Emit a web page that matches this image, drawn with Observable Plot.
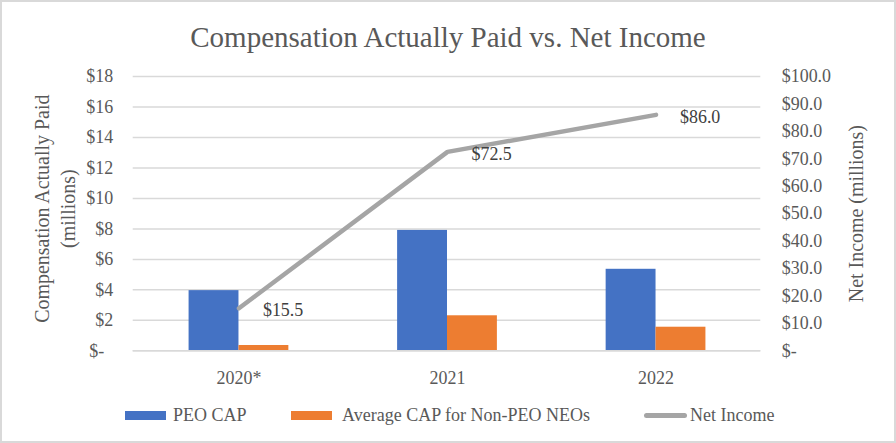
<!DOCTYPE html>
<html>
<head>
<meta charset="utf-8">
<script src="https://cdn.jsdelivr.net/npm/d3@7"></script>
<script src="https://cdn.jsdelivr.net/npm/@observablehq/plot@0.6"></script>
<style>
  html, body { margin: 0; padding: 0; background: #fff; }
  #chart { position: relative; width: 896px; height: 443px; box-sizing: border-box; border: 2px solid #d9d9d9; font-family: "Liberation Serif", "Times New Roman", serif; color: #595959; overflow: hidden; }
  #title { position: absolute; left: 0; top: 17px; width: 892px; text-align: center; font-size: 29px; line-height: 36px; color: #595959; }
  #plot { position: absolute; left: -2px; top: 56px; }
  #legend { position: absolute; top: 401px; left: 0; width: 892px; font-size: 18px; line-height: 24px; }
  .item { position: absolute; top: 0; white-space: nowrap; display: flex; align-items: center; height: 24px; }
  .sw { display: inline-block; width: 41px; height: 9px; }
  .ln { display: inline-block; width: 43px; height: 5px; border-radius: 2.5px; }
</style>
</head>
<body>
<div id="chart">
  <div id="title">Compensation Actually Paid vs. Net Income</div>
  <div id="plot"></div>
  <div id="legend"></div>
</div>
<script>
const years = ["2020*", "2021", "2022"];
const peoCap = [3.95, 7.9, 5.35];
const avgNeoCap = [0.35, 2.3, 1.55];
const netIncome = [15.5, 72.5, 86.0];
const leftTicks = [0, 2, 4, 6, 8, 10, 12, 14, 16, 18];
const rightTicks = [0, 10, 20, 30, 40, 50, 60, 70, 80, 90, 100];
const seriesNames = ["PEO CAP", "Average CAP for Non-PEO NEOs", "Net Income"];
const colors = ["#4472C4", "#ED7D31", "#A5A5A5"];

const leftMax = 18, rightMax = 100;
const toLeft = v => v * leftMax / rightMax;

const peoData = years.map((y, i) => ({year: y, value: peoCap[i]}));
const neoData = years.map((y, i) => ({year: y, value: avgNeoCap[i]}));
const niData = years.map((y, i) => ({year: y, value: netIncome[i]}));

const fmtLeft = d => d === 0 ? "$-\u2007" : "$" + d3.format(",")(d);
const fmtRight = d => d === 0 ? "$-" : "$" + d3.format(".1f")(d);

const W = 896, H = 341;
const plot = Plot.plot({
  width: W,
  height: H,
  marginTop: 18,
  marginBottom: 48,
  marginLeft: 133,
  marginRight: 134,
  style: {fontFamily: "Liberation Serif, Times New Roman, serif", fontSize: "18px", color: "#595959", background: "transparent", overflow: "visible"},
  x: {domain: years, paddingInner: 0.523, paddingOuter: 0.2615, label: null},
  y: {domain: [0, leftMax], label: null},
  marks: [
    Plot.gridY(leftTicks, {stroke: "#d9d9d9", strokeOpacity: 1, strokeWidth: 1.5}),
    Plot.barY(peoData, {x: "year", y: "value", fill: colors[0], insetRight: 50}),
    Plot.barY(neoData, {x: "year", y: "value", fill: colors[1], insetLeft: 50}),
    Plot.ruleY([0], {stroke: "#d9d9d9", strokeWidth: 1.5}),
    Plot.line(niData, {x: "year", y: d => toLeft(d.value), stroke: colors[2], strokeWidth: 4.5, strokeLinecap: "round", strokeLinejoin: "round"}),
    Plot.text(niData, {x: "year", y: d => toLeft(d.value), text: d => "$" + d3.format(".1f")(d.value), textAnchor: "start", dx: 24, dy: 2, fill: "#404040", fontSize: 18}),
    Plot.axisX({tickSize: 0, tickPadding: 20, fontSize: 18, fill: "#595959"}),
    Plot.axisY(leftTicks, {anchor: "left", tickSize: 0, tickPadding: 20, tickFormat: fmtLeft, fontSize: 18, fill: "#595959"}),
    Plot.axisY(rightTicks.map(toLeft), {anchor: "right", tickSize: 0, tickPadding: 21, tickFormat: d => fmtRight(Math.round(d * rightMax / leftMax)), fontSize: 18, fill: "#595959"}),
    Plot.text(["Compensation Actually Paid\n(millions)"], {frameAnchor: "left", textAnchor: "middle", dx: -80, dy: -5, rotate: -90, fontSize: 20, lineHeight: 1.3, fill: "#595959"}),
    Plot.text(["Net Income (millions)"], {frameAnchor: "right", textAnchor: "middle", dx: 96, rotate: -90, fontSize: 20, fill: "#595959"})
  ]
});
document.getElementById("plot").appendChild(plot);

// legend
const legend = document.getElementById("legend");
const positions = [123, 289, 642];
const gaps = [7, 10, 3];
seriesNames.forEach((name, i) => {
  const item = document.createElement("div");
  item.className = "item";
  item.style.left = positions[i] + "px";
  const sw = document.createElement("span");
  sw.className = i === 2 ? "ln" : "sw";
  sw.style.background = colors[i];
  sw.style.marginRight = gaps[i] + "px";
  item.appendChild(sw);
  const t = document.createElement("span");
  t.textContent = name;
  item.appendChild(t);
  legend.appendChild(item);
});
</script>
</body>
</html>
